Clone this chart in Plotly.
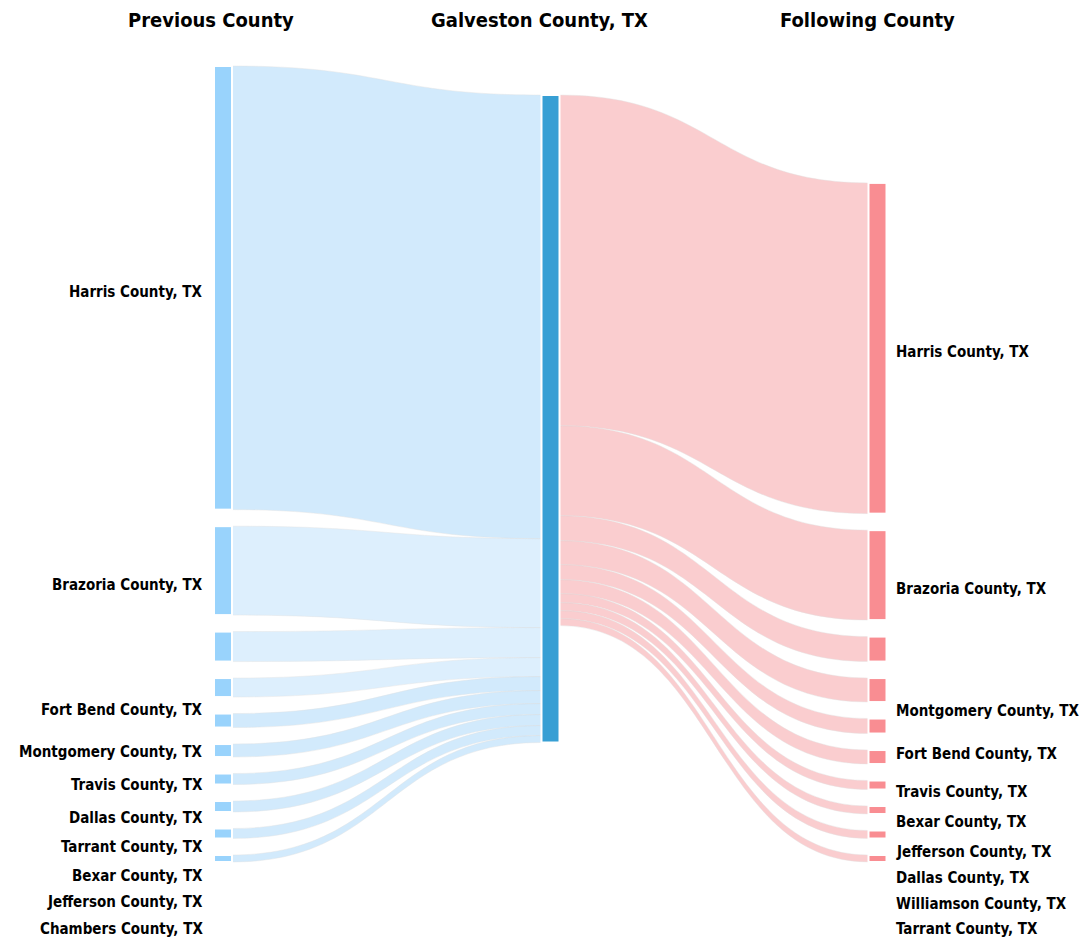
import plotly.graph_objects as go

# ---------------- data ----------------
prev_counties = ["Harris County, TX", "Brazoria County, TX", "Fort Bend County, TX",
                 "Montgomery County, TX", "Travis County, TX", "Dallas County, TX",
                 "Tarrant County, TX", "Bexar County, TX", "Jefferson County, TX",
                 "Chambers County, TX"]
prev_values = [444, 89, 30, 19, 14, 13, 11, 11, 10, 7]

center_county = "Galveston County, TX"

next_counties = ["Harris County, TX", "Brazoria County, TX", "Montgomery County, TX",
                 "Fort Bend County, TX", "Travis County, TX", "Bexar County, TX",
                 "Jefferson County, TX", "Dallas County, TX", "Williamson County, TX",
                 "Tarrant County, TX"]
next_values = [331, 90, 25, 24, 15, 14, 9, 8, 8, 7]

column_titles = ["Previous County", "Galveston County, TX", "Following County"]

# ---------------- layout constants (page pixels) ----------------
OFF = 8                              # default page body margin
W, H_FIG = 1087 - OFF, 940 - OFF     # figure size


def fx(px):
    return (px - OFF) / W


def fy(py):
    return 1 - (py - OFF) / H_FIG


DOM_TOP, DOM_BOT = 66, 862          # page-pixel extent of sankey domain
DOM_H = DOM_BOT - DOM_TOP
PAD = 16.5
THICK = 18
COL_X = [223, 550.5, 877.5]
MID_TOP = 29                        # px below domain top

n_prev, n_next = len(prev_counties), len(next_counties)
total_prev = sum(prev_values)
ky = (DOM_H - (n_prev - 1) * PAD) / total_prev

# node positions (centres, fraction of domain), derived from values
prev_y = []
top = 0.0
for v in prev_values:
    prev_y.append((top + v * ky / 2) / DOM_H)
    top += v * ky + PAD

next_y = [0.0] * n_next
bottom = DOM_H
for i in range(n_next - 1, -1, -1):
    v = next_values[i]
    next_y[i] = (bottom - v * ky / 2) / DOM_H
    bottom -= v * ky + PAD

mid_val = max(total_prev, sum(next_values))
mid_y = (MID_TOP + mid_val * ky / 2) / DOM_H

node_x = [fx(COL_X[0])] * n_prev + [fx(COL_X[1])] + [fx(COL_X[2])] * n_next
node_y = prev_y + [mid_y] + next_y
node_names = prev_counties + [center_county] + next_counties
node_colors = (["rgb(153,211,252)"] * n_prev + ["rgb(55,159,212)"]
               + ["rgb(249,141,146)"] * n_next)

mid_idx = n_prev
sources, targets, values, link_colors = [], [], [], []
for i, v in enumerate(prev_values):
    sources.append(i)
    targets.append(mid_idx)
    values.append(v)
    alpha = 0.3 if i in (1, 2, 3) else 0.4
    link_colors.append(f"rgba(142,202,247,{alpha})")
for j, v in enumerate(next_values):
    sources.append(mid_idx)
    targets.append(mid_idx + 1 + j)
    values.append(v)
    link_colors.append("rgba(242,130,135,0.4)")

fig = go.Figure(go.Sankey(
    arrangement="fixed",
    domain=dict(x=[0, 1], y=[fy(DOM_BOT), fy(DOM_TOP)]),
    node=dict(
        label=[""] * len(node_names),
        customdata=node_names,
        hovertemplate="%{customdata}<extra></extra>",
        x=node_x, y=node_y,
        pad=PAD, thickness=THICK,
        color=node_colors,
        line=dict(color="white", width=2),
    ),
    link=dict(
        source=sources, target=targets, value=values,
        color=link_colors,
        line=dict(color="rgba(225,225,225,0.8)", width=0.5),
    ),
))

FONT = "Tahoma, 'DejaVu Sans Condensed', 'DejaVu Sans', sans-serif"

annotations = []
title_x = [211, 539, 867]
for t, x in zip(column_titles, title_x):
    annotations.append(dict(text=f"<b>{t}</b>", x=fx(x), y=fy(20),
                            xref="paper", yref="paper", showarrow=False,
                            xanchor="center", yanchor="middle",
                            font=dict(family=FONT, size=20, color="black")))

prev_label_y = [292, 585, 710, 752, 785, 818, 847, 876, 902, 929]
next_label_y = [352, 589, 711, 754, 792, 822, 852, 878, 904, 929]
for name, py in zip(prev_counties, prev_label_y):
    annotations.append(dict(text=f"<b>{name}</b>", x=fx(205), y=fy(py),
                            xref="paper", yref="paper", showarrow=False,
                            xanchor="right", yanchor="middle",
                            font=dict(family=FONT, size=15, color="black")))
for name, py in zip(next_counties, next_label_y):
    annotations.append(dict(text=f"<b>{name}</b>", x=fx(894), y=fy(py),
                            xref="paper", yref="paper", showarrow=False,
                            xanchor="left", yanchor="middle",
                            font=dict(family=FONT, size=15, color="black")))

fig.update_layout(
    width=W, height=H_FIG, autosize=False,
    margin=dict(l=0, r=0, t=0, b=0),
    paper_bgcolor="white", plot_bgcolor="white",
    annotations=annotations,
    showlegend=False,
)

fig.write_html("out.html")
